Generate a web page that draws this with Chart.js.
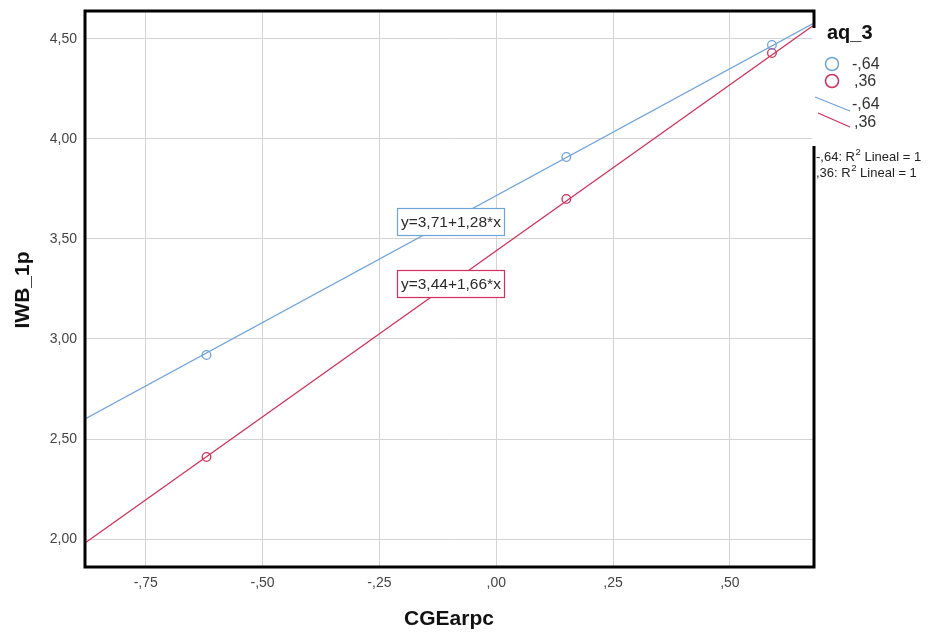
<!DOCTYPE html>
<html>
<head>
<meta charset="utf-8">
<script src="https://cdn.jsdelivr.net/npm/chart.js@4.4.0/dist/chart.umd.min.js"></script>
<style>
  html, body { margin: 0; padding: 0; background: #fff; }
  #wrap { width: 931px; height: 632px; position: relative; }
</style>
</head>
<body>
<div id="wrap"><canvas id="c" width="931" height="632"></canvas></div>
<script>
// ---- data ----
const groupNames = ["-,64", ",36"];
const pointsX = [-0.62, 0.15, 0.59];
const bluePointsY = [2.92, 3.91, 4.47];
const redPointsY = [2.41, 3.70, 4.43];
const lineX = [-0.88, 0.68];
const blueLineY = [2.60, 4.58];
const redLineY = [1.98, 4.57];
const equations = ["y=3,71+1,28*x", "y=3,44+1,66*x"];
const xTicks = [-0.75, -0.50, -0.25, 0.00, 0.25, 0.50];
const yTicks = [2.00, 2.50, 3.00, 3.50, 4.00, 4.50];
const rSquaredLabels = ["-,64: R", ",36: R"];

// ---- styling ----
const BLUE = "#6fa3dc";
const RED = "#d1305a";
const FONT = "'Liberation Sans', Arial, sans-serif";

function fmt(v) {
  let s = Math.abs(v).toFixed(2).replace(".", ",");
  if (s.startsWith("0,")) s = s.slice(1);
  return (v < -1e-9 ? "-" : "") + s;
}
function pts(xs, ys) { return xs.map((x, i) => ({ x: x, y: ys[i] })); }

const annotationPos = [{ x: -0.097, y: 3.585 }, { x: -0.097, y: 3.277 }];

const decorPlugin = {
  id: "decor",
  afterDraw(chart) {
    const ctx = chart.ctx;
    const a = chart.chartArea;
    const xs = chart.scales.x, ys = chart.scales.y;
    ctx.save();
    // plot border
    ctx.strokeStyle = "#000";
    ctx.lineWidth = 3;
    ctx.strokeRect(a.left, a.top, a.right - a.left, a.bottom - a.top);

    // equation boxes
    ctx.font = "15.5px " + FONT;
    ctx.textAlign = "center";
    ctx.textBaseline = "middle";
    [BLUE, RED].forEach((col, i) => {
      const cx = xs.getPixelForValue(annotationPos[i].x);
      const cy = ys.getPixelForValue(annotationPos[i].y);
      const w = 107, h = 27;
      ctx.fillStyle = "#fff";
      ctx.fillRect(cx - w / 2, cy - h / 2, w, h);
      ctx.strokeStyle = col;
      ctx.lineWidth = 1.2;
      ctx.strokeRect(Math.round(cx - w / 2) + 0.5, Math.round(cy - h / 2) + 0.5, w, h);
      ctx.fillStyle = "#2a2a2a";
      ctx.fillText(equations[i], cx, cy + 1);
    });

    // legend background covering border
    ctx.fillStyle = "#fff";
    ctx.fillRect(a.right - 2, 28, 931 - a.right + 2, 118);

    // legend title
    ctx.fillStyle = "#111";
    ctx.font = "bold 20px " + FONT;
    ctx.textAlign = "left";
    ctx.textBaseline = "alphabetic";
    ctx.fillText("aq_3", 827, 39);

    // marker entries
    ctx.font = "16px " + FONT;
    ctx.textBaseline = "middle";
    [BLUE, RED].forEach((col, i) => {
      const cy = 64 + i * 17;
      ctx.beginPath();
      ctx.arc(832, cy, 6.5, 0, Math.PI * 2);
      ctx.strokeStyle = col;
      ctx.lineWidth = 1.5;
      ctx.stroke();
      ctx.fillStyle = "#333";
      ctx.fillText(groupNames[i], 852 + i * 2, cy + 1);
    });
    // line entries
    [BLUE, RED].forEach((col, i) => {
      const y0 = 97 + i * 16;
      ctx.beginPath();
      ctx.moveTo(815 + i * 3, y0);
      ctx.lineTo(850, y0 + 14);
      ctx.strokeStyle = col;
      ctx.lineWidth = 1.3;
      ctx.stroke();
      ctx.fillStyle = "#333";
      ctx.fillText(groupNames[i], 852 + i * 2, 105 + i * 18);
    });
    // R² lines
    rSquaredLabels.forEach((t, i) => {
      const y = 157 + i * 16;
      const x0 = 816;
      ctx.font = "13px " + FONT;
      ctx.fillStyle = "#222";
      ctx.fillText(t, x0, y);
      const w1 = ctx.measureText(t).width;
      ctx.font = "9.5px " + FONT;
      ctx.fillText("2", x0 + w1 + 0.5, y - 5);
      const w2 = ctx.measureText("2").width;
      ctx.font = "13px " + FONT;
      ctx.fillText(" Lineal = 1", x0 + w1 + w2 + 0.5, y);
    });

    // axis titles
    ctx.fillStyle = "#111";
    ctx.font = "bold 21px " + FONT;
    ctx.textAlign = "center";
    ctx.textBaseline = "middle";
    ctx.fillText("CGEarpc", 449, 619);
    ctx.save();
    ctx.translate(23, 290);
    ctx.rotate(-Math.PI / 2);
    ctx.fillText("IWB_1p", 0, 0);
    ctx.restore();
    ctx.restore();
  }
};

new Chart(document.getElementById("c"), {
  type: "scatter",
  data: {
    datasets: [
      { label: groupNames[0], data: pts(pointsX, bluePointsY), showLine: false, pointStyle: "circle",
        pointRadius: 4.3, pointBorderWidth: 1.3, borderColor: BLUE, backgroundColor: "rgba(255,255,255,0)", order: 0 },
      { label: groupNames[1], data: pts(pointsX, redPointsY), showLine: false, pointStyle: "circle",
        pointRadius: 4.3, pointBorderWidth: 1.3, borderColor: RED, backgroundColor: "rgba(255,255,255,0)", order: 0 },
      { label: groupNames[0] + " fit", data: pts(lineX, blueLineY), showLine: true, pointRadius: 0,
        borderColor: BLUE, borderWidth: 1.3, order: 1 },
      { label: groupNames[1] + " fit", data: pts(lineX, redLineY), showLine: true, pointRadius: 0,
        borderColor: RED, borderWidth: 1.3, order: 1 }
    ]
  },
  options: {
    responsive: false,
    devicePixelRatio: 1,
    animation: false,
    layout: { padding: { left: 0, right: 117, top: 11, bottom: 0 } },
    plugins: { legend: { display: false }, tooltip: { enabled: false } },
    scales: {
      x: {
        type: "linear", min: -0.88, max: 0.68,
        afterBuildTicks: s => { s.ticks = xTicks.map(v => ({ value: v })); },
        afterFit: s => { s.height = 65; s.paddingLeft = 0; s.paddingRight = 0; },
        grid: { color: "#d3d3d3", lineWidth: 1, drawTicks: false },
        border: { display: false },
        ticks: { callback: v => fmt(v), padding: 8, font: { family: FONT, size: 14 }, color: "#444", maxRotation: 0 }
      },
      y: {
        type: "linear", min: 1.86, max: 4.64,
        afterBuildTicks: s => { s.ticks = yTicks.map(v => ({ value: v })); },
        afterFit: s => { s.width = 85; s.paddingTop = 0; s.paddingBottom = 0; },
        grid: { color: "#d3d3d3", lineWidth: 1, drawTicks: false },
        border: { display: false },
        ticks: { callback: v => fmt(v), padding: 8, font: { family: FONT, size: 14 }, color: "#444" }
      }
    }
  },
  plugins: [decorPlugin]
});
</script>
</body>
</html>
